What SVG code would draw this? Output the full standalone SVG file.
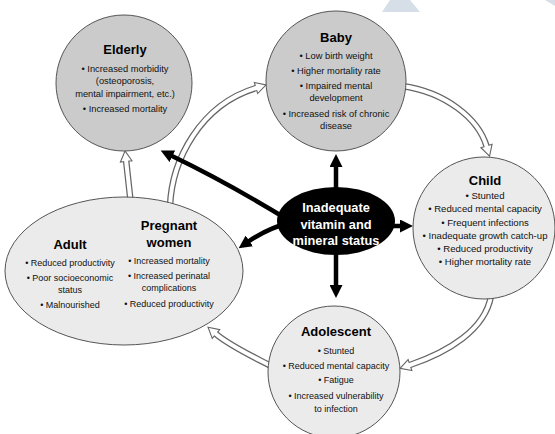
<svg xmlns="http://www.w3.org/2000/svg" width="555" height="434" viewBox="0 0 555 434">
<style>
  text { font-family: "Liberation Sans", Arial, sans-serif; text-anchor: middle; fill: #111; }
  .t { font-weight: bold; font-size: 13px; fill: #000; }
  .b { font-size: 9.3px; }
  .bc { font-size: 9.6px; }
  .bs { font-size: 9px; }
  .ct { font-weight: bold; font-size: 12.8px; fill: #fff; }
  .node { stroke: #555; stroke-width: 1; }
  .dark { fill: #cbcbcb; }
  .light { fill: #ebebeb; }
  .hg { fill: none; stroke: #666; stroke-width: 6.5; marker-end: url(#ho); }
  .hw { fill: none; stroke: #fff; stroke-width: 4; stroke-linecap: square; }
  .bk { fill: none; stroke: #000; stroke-width: 4.5; marker-end: url(#bh); }
</style>
<defs>
  <marker id="ho" markerUnits="userSpaceOnUse" markerWidth="14" markerHeight="14" viewBox="0 0 14 14" refX="2" refY="7" orient="auto">
    <polygon points="2,1.2 12.5,7 2,12.8" fill="#fff" stroke="#666" stroke-width="1.1"/>
  </marker>
  <marker id="bh" markerUnits="userSpaceOnUse" markerWidth="13" markerHeight="13" viewBox="0 0 13 13" refX="1" refY="6.5" orient="auto">
    <polygon points="0,0 13,6.5 0,13" fill="#000"/>
  </marker>
</defs>
<rect width="555" height="434" fill="#fff"/>
<polygon points="390,0 410,0 420,12 382,12" fill="#d6dee8"/>
<polygon points="545,0 555,0 555,6" fill="#d6dee8"/>

<g id="connectors">
  <path class="hg" d="M131,205 L126.2,161.4"/>
  <path class="hw" d="M131,205 L126.2,161.4"/>
  <path class="hg" d="M170,206 C172,160 200,105 256,88"/>
  <path class="hw" d="M170,206 C172,160 200,105 256,88"/>
  <path class="hg" d="M402,86 C445,92 478,118 486.5,146"/>
  <path class="hw" d="M402,86 C445,92 478,118 486.5,146"/>
  <path class="hg" d="M491,296 C485,330 448,352 410,365"/>
  <path class="hw" d="M491,296 C485,330 448,352 410,365"/>
  <path class="hg" d="M273,367 C252,356 230,346 216,334"/>
  <path class="hw" d="M273,367 C252,356 230,346 216,334"/>
  <path class="bk" d="M336,200 L336,166"/>
  <path class="bk" d="M380,226 L401,226"/>
  <path class="bk" d="M336,240 L336,286"/>
  <path class="bk" d="M292,222 Q268,228 248.5,241.5"/>
  <path class="bk" d="M290,221 Q228,183 171.5,155.8"/>
</g>

<g id="elderly">
  <circle class="node dark" cx="124" cy="83" r="68"/>
  <text class="t" x="125" y="54">Elderly</text>
  <text class="b" x="125" y="72">• Increased morbidity</text>
  <text class="b" x="125" y="84">(osteoporosis,</text>
  <text class="b" x="125" y="97">mental impairment, etc.)</text>
  <text class="b" x="125" y="112">• Increased mortality</text>
</g>

<g id="baby">
  <circle class="node dark" cx="336" cy="81" r="70"/>
  <text class="t" x="336" y="42">Baby</text>
  <text class="b" x="336" y="59">• Low birth weight</text>
  <text class="b" x="336" y="74">• Higher mortality rate</text>
  <text class="b" x="336" y="89">• Impaired mental</text>
  <text class="b" x="336" y="101">development</text>
  <text class="b" x="336" y="117">• Increased risk of chronic</text>
  <text class="b" x="336" y="129">disease</text>
</g>

<g id="child">
  <circle class="node light" cx="484" cy="228" r="71"/>
  <text class="t" x="485" y="185">Child</text>
  <text class="bc" x="485" y="198.5">• Stunted</text>
  <text class="bc" x="485" y="212">• Reduced mental capacity</text>
  <text class="bc" x="485" y="225.5">• Frequent infections</text>
  <text class="bc" x="485" y="238.5">• Inadequate growth catch-up</text>
  <text class="bc" x="485" y="251.5">• Reduced productivity</text>
  <text class="bc" x="485" y="264.5">• Higher mortality rate</text>
</g>

<g id="adolescent">
  <circle class="node light" cx="334" cy="372" r="66"/>
  <text class="t" x="336" y="336">Adolescent</text>
  <text class="bs" x="336" y="354">• Stunted</text>
  <text class="bs" x="336" y="369">• Reduced mental capacity</text>
  <text class="bs" x="336" y="383">• Fatigue</text>
  <text class="bs" x="336" y="399">• Increased vulnerability</text>
  <text class="bs" x="336" y="412">to infection</text>
</g>

<g id="adult-pregnant">
  <ellipse class="node light" cx="124" cy="271" rx="119" ry="74"/>
  <text class="t" x="70" y="249">Adult</text>
  <text class="bs" x="70" y="266">• Reduced productivity</text>
  <text class="bs" x="70" y="281">• Poor socioeconomic</text>
  <text class="bs" x="70" y="293">status</text>
  <text class="bs" x="70" y="308">• Malnourished</text>
  <text class="t" x="169" y="230">Pregnant</text>
  <text class="t" x="169" y="247">women</text>
  <text class="bs" x="169" y="264">• Increased mortality</text>
  <text class="bs" x="169" y="279">• Increased perinatal</text>
  <text class="bs" x="169" y="291">complications</text>
  <text class="bs" x="169" y="307">• Reduced productivity</text>
</g>

<g id="center">
  <ellipse cx="336" cy="221" rx="59" ry="34" fill="#000"/>
  <text class="ct" x="336" y="212">Inadequate</text>
  <text class="ct" x="336" y="228.5">vitamin and</text>
  <text class="ct" x="336" y="245">mineral status</text>
</g>
</svg>
